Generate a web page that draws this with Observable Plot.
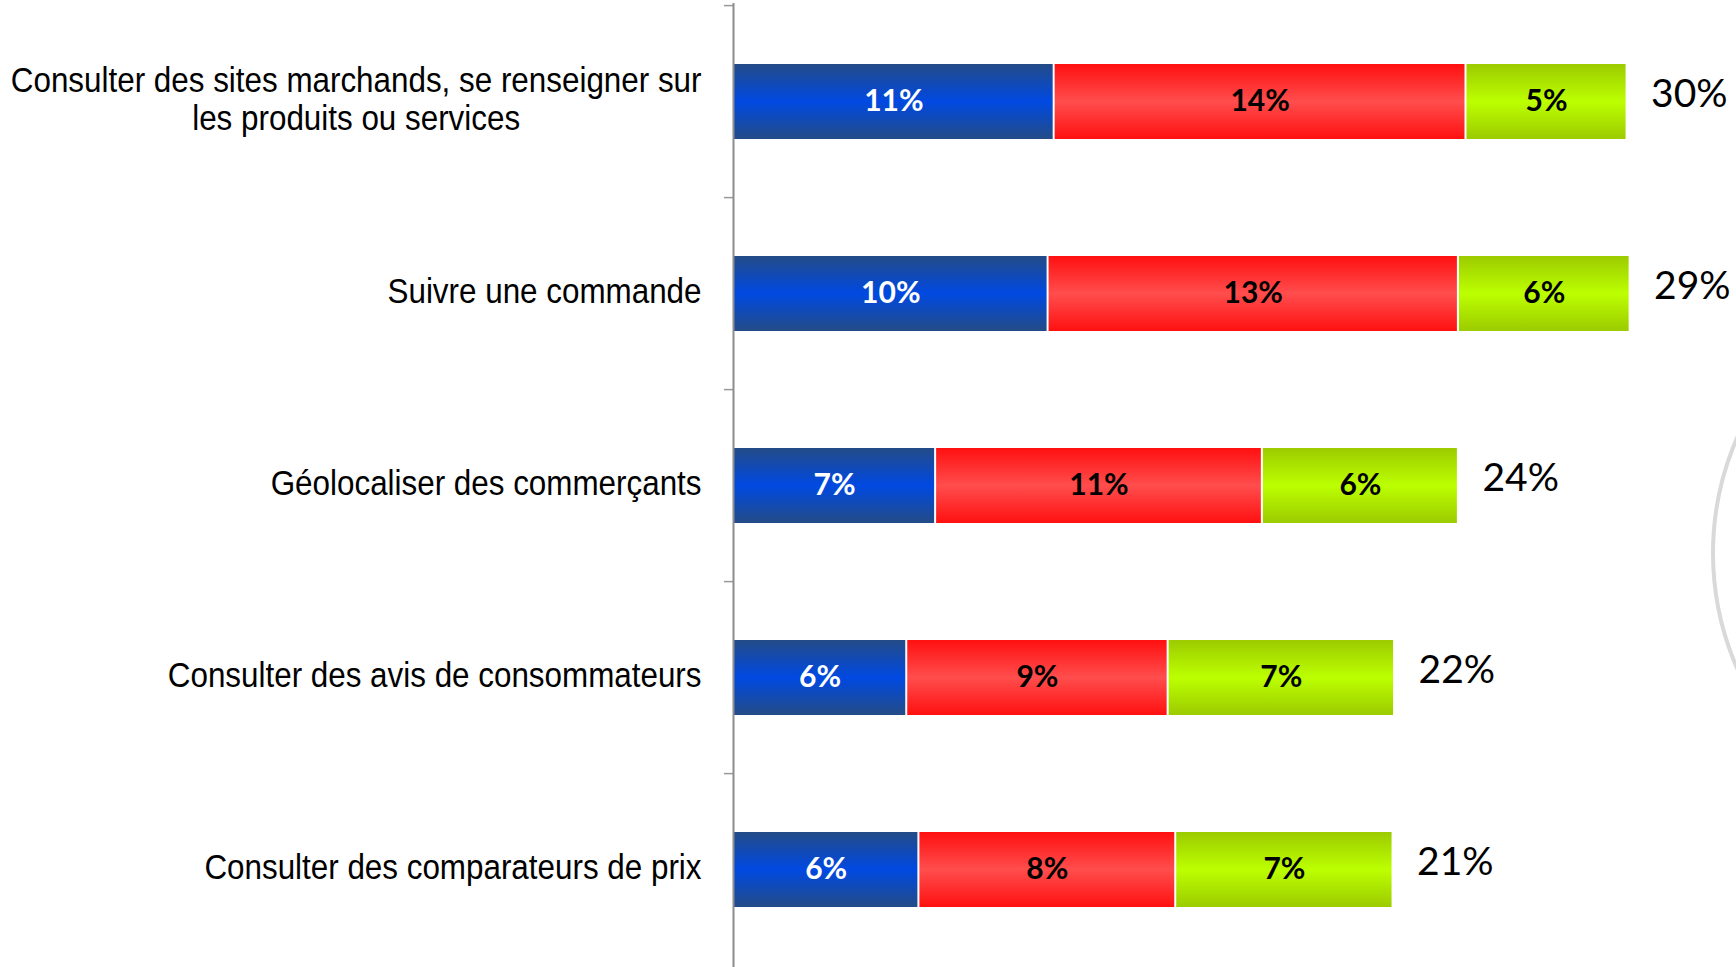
<!DOCTYPE html>
<html>
<head>
<meta charset="utf-8">
<script src="https://cdn.jsdelivr.net/npm/d3@7"></script>
<script src="https://cdn.jsdelivr.net/npm/@observablehq/plot@0.6"></script>
<style>
  html, body { margin: 0; padding: 0; background: #fff; overflow: hidden; }
  #wrap { position: relative; width: 1736px; height: 967px; overflow: hidden; }
  #deco { position: absolute; left: 1711px; top: 263px; width: 580px; height: 580px;
          border: 4px solid #d9d9d9; border-radius: 50%; box-sizing: border-box; }
  #chart { position: absolute; left: 0; top: 0; }
</style>
</head>
<body>
<div id="wrap">
  <div id="deco"></div>
  <div id="chart"></div>
</div>
<script>
// ---- Data ----
const categories = [
  "Consulter des sites marchands, se renseigner sur\nles produits ou services",
  "Suivre une commande",
  "Géolocaliser des commerçants",
  "Consulter des avis de consommateurs",
  "Consulter des comparateurs de prix"
];
const seriesKeys = ["s1", "s2", "s3"];
const seriesBlue  = [10.55, 10.35, 6.65, 5.70, 6.10];
const seriesRed   = [13.55, 13.50, 10.75, 8.60, 8.45];
const seriesGreen = [5.30, 5.65, 6.45, 7.45, 7.15];
const segLabels = [
  ["11%", "14%", "5%"],
  ["10%", "13%", "6%"],
  ["7%", "11%", "6%"],
  ["6%", "9%", "7%"],
  ["6%", "8%", "7%"]
];
const totalLabels = ["30%", "29%", "24%", "22%", "21%"];

// ---- Build table ----
const seriesVals = [seriesBlue, seriesRed, seriesGreen];
const rows = [];
categories.forEach((c, i) => {
  seriesKeys.forEach((s, j) => {
    rows.push({cat: c, series: s, value: seriesVals[j][i], label: segLabels[i][j]});
  });
});
const totals = categories.map((c, i) => ({
  cat: c,
  sum: seriesBlue[i] + seriesRed[i] + seriesGreen[i],
  label: totalLabels[i]
}));

const catFont = "'Liberation Sans', Arial, sans-serif";
const segFont = "Lato, 'Open Sans', sans-serif";

const plot = Plot.plot({
  width: 1736,
  height: 967,
  marginLeft: 733,
  marginRight: 0,
  marginTop: 3,
  marginBottom: 0,
  style: {background: "transparent", overflow: "visible"},
  x: {domain: [0, 33.0], axis: null},
  y: {domain: categories, axis: null, paddingInner: 0.61, paddingOuter: 0.305},
  color: {domain: seriesKeys, range: ["url(#gBlue)", "url(#gRed)", "url(#gGreen)"]},
  marks: [
    // category separators (ticks) on the axis
    Plot.ruleY(categories, {y: d => d, x1: -0.3, x2: 0, dy: -96.4, stroke: "#999", strokeWidth: 1.5}),
    Plot.barX(rows, Plot.stackX({x: "value", y: "cat", z: "series", fill: "series", insetLeft: 1, insetRight: 1})),
    Plot.text(rows, Plot.stackX({x: "value", y: "cat", z: "series",
      text: d => d.series === "s1" ? d.label : "",
      fill: "white", fontFamily: segFont, fontWeight: "bold", fontSize: 30, dy: -1})),
    Plot.text(rows, Plot.stackX({x: "value", y: "cat", z: "series",
      text: d => d.series === "s1" ? "" : d.label,
      fill: "black", fontFamily: segFont, fontWeight: "bold", fontSize: 30, dy: -1})),
    Plot.text(totals, {x: "sum", y: "cat", text: "label", textAnchor: "start", dx: 24, dy: -7,
      fill: "black", fontFamily: segFont, fontSize: 39}),
    Plot.text(categories, {y: d => d, text: d => d, frameAnchor: "left", textAnchor: "end", dx: -32,
      fill: "black", fontFamily: catFont, fontSize: 34.5, lineHeight: 1.09, dy: -3,
      className: "catlabel"}),
    Plot.ruleX([0], {stroke: "#8c8c8c", strokeWidth: 2})
  ]
});

// gradient defs
const ns = "http://www.w3.org/2000/svg";
const defs = document.createElementNS(ns, "defs");
const grads = {
  gBlue:  ["#234b86", "#0049e2", "#234b86"],
  gRed:   ["#ff1010", "#ff4d4d", "#ff1010"],
  gGreen: ["#9ccb00", "#bcff00", "#9ccb00"]
};
for (const [id, cols] of Object.entries(grads)) {
  const g = document.createElementNS(ns, "linearGradient");
  g.setAttribute("id", id);
  g.setAttribute("x1", "0"); g.setAttribute("y1", "0");
  g.setAttribute("x2", "0"); g.setAttribute("y2", "1");
  [[0, cols[0]], [0.5, cols[1]], [1, cols[2]]].forEach(([o, c]) => {
    const st = document.createElementNS(ns, "stop");
    st.setAttribute("offset", o);
    st.setAttribute("stop-color", c);
    g.appendChild(st);
  });
  defs.appendChild(g);
}
plot.insertBefore(defs, plot.firstChild);
document.getElementById("chart").appendChild(plot);

// narrow the category labels (Arial Narrow look) and center the second line
plot.querySelectorAll(".catlabel text").forEach(t => {
  const tr = t.getAttribute("transform") || "";
  t.setAttribute("transform", tr + " scale(0.91,1)");
  const spans = t.querySelectorAll("tspan");
  if (spans.length === 2) {
    const w1 = spans[0].getComputedTextLength();
    const w2 = spans[1].getComputedTextLength();
    spans[1].setAttribute("dx", -(w1 - w2) / 2);
  }
});
</script>
</body>
</html>
